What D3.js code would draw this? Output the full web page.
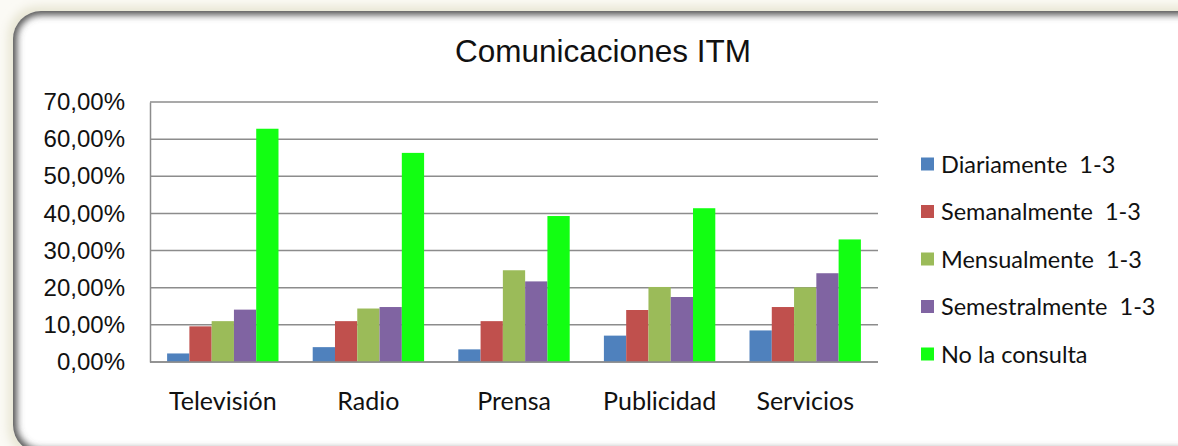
<!DOCTYPE html>
<html>
<head>
<meta charset="utf-8">
<script src="https://cdn.jsdelivr.net/npm/d3@7"></script>
<style>
  body { margin: 0; background: #ffffff; }
  svg { display: block; }
</style>
</head>
<body>
<div id="chart"></div>
<script>
// data
const categories = ["Televisión", "Radio", "Prensa", "Publicidad", "Servicios"];
const seriesNames = ["Diariamente  1-3", "Semanalmente  1-3", "Mensualmente  1-3", "Semestralmente  1-3", "No la consulta"];
const seriesColors = ["#4f81bd", "#c0504d", "#9bbb59", "#8064a2", "#12ff12"];
const diariamente = [2.3, 4.0, 3.4, 7.1, 8.5];
const semanalmente = [9.6, 11.0, 11.0, 14.0, 14.8];
const mensualmente = [11.0, 14.4, 24.7, 20.2, 20.1];
const semestralmente = [14.1, 14.8, 21.7, 17.5, 23.9];
const noConsulta = [62.8, 56.3, 39.3, 41.4, 33.0];
const yTicks = [0, 10, 20, 30, 40, 50, 60, 70];

const values = [diariamente, semanalmente, mensualmente, semestralmente, noConsulta];

const width = 1178, height = 446;
const plot = {left: 150, right: 878, top: 102, bottom: 362};

const svg = d3.select("#chart").append("svg").attr("width", width).attr("height", height);
const defs = svg.append("defs");

// outer glow + frame
const glow = defs.append("filter").attr("id", "glow").attr("x", "-5%").attr("y", "-10%").attr("width", "110%").attr("height", "120%");
glow.append("feGaussianBlur").attr("stdDeviation", 5);

const inner = defs.append("filter").attr("id", "inner").attr("x", "-5%").attr("y", "-10%").attr("width", "110%").attr("height", "120%");
inner.append("feGaussianBlur").attr("stdDeviation", 3.5);

defs.append("clipPath").attr("id", "frameClip")
    .append("rect").attr("x", 13).attr("y", 11).attr("width", 1230).attr("height", 442).attr("rx", 28);

svg.append("rect").attr("x", 0).attr("y", 0).attr("width", width).attr("height", height).attr("fill", "#fbfaf5");
svg.append("rect").attr("x", 8).attr("y", 6).attr("width", 1240).attr("height", 452).attr("rx", 30)
    .attr("fill", "#e8e6d4").attr("filter", "url(#glow)");
svg.append("rect").attr("x", 13).attr("y", 11).attr("width", 1230).attr("height", 442).attr("rx", 28)
    .attr("fill", "#ffffff");
svg.append("g").attr("clip-path", "url(#frameClip)")
    .append("rect").attr("x", 11).attr("y", 9).attr("width", 1234).attr("height", 446).attr("rx", 30)
    .attr("fill", "none").attr("stroke", "#555555").attr("stroke-width", 12)
    .attr("filter", "url(#inner)");

// title
svg.append("text").attr("x", 603).attr("y", 62).attr("text-anchor", "middle")
    .style("font-family", "'Liberation Sans', Arial, sans-serif").style("font-size", "31.5px").attr("fill", "#111")
    .text("Comunicaciones ITM");

// scales
const xScale = d3.scaleBand().domain(categories).range([plot.left, plot.right]).paddingInner(0.235).paddingOuter(0.1175);
const xInner = d3.scaleBand().domain(d3.range(seriesNames.length)).range([0, xScale.bandwidth()]);
const yScale = d3.scaleLinear().domain([0, 70]).range([plot.bottom, plot.top]);

// grid
svg.append("g").selectAll("line").data(yTicks).enter().append("line")
    .attr("x1", plot.left).attr("x2", plot.right)
    .attr("y1", d => yScale(d)).attr("y2", d => yScale(d))
    .attr("stroke", "#8c8c8c").attr("stroke-width", 1.5);

// y axis
const yAxis = d3.axisLeft(yScale).tickValues(yTicks).tickSize(0).tickPadding(25)
    .tickFormat(d => d3.format(".2f")(d).replace(".", ",") + "%");
const yG = svg.append("g").attr("transform", "translate(" + plot.left + ",0)").call(yAxis);
yG.select(".domain").attr("stroke", "#8c8c8c").attr("stroke-width", 1.5);
yG.selectAll("text").style("font-family", "'Liberation Sans', Arial, sans-serif").style("font-size", "24px").attr("fill", "#111");

// bars
const groups = svg.append("g").selectAll("g").data(categories).enter().append("g")
    .attr("transform", d => "translate(" + xScale(d) + ",0)");
groups.selectAll("rect").data((d, i) => values.map((s, j) => ({s: j, v: s[i]}))).enter().append("rect")
    .attr("x", d => xInner(d.s))
    .attr("width", xInner.bandwidth())
    .attr("y", d => yScale(d.v))
    .attr("height", d => yScale(0) - yScale(d.v))
    .attr("fill", d => seriesColors[d.s]);

// bottom axis line
svg.append("line").attr("x1", plot.left).attr("x2", plot.right).attr("y1", plot.bottom).attr("y2", plot.bottom)
    .attr("stroke", "#8c8c8c").attr("stroke-width", 1.5);

// x labels
const xAxis = d3.axisBottom(xScale).tickSize(0).tickPadding(30);
const xG = svg.append("g").attr("transform", "translate(0," + plot.bottom + ")").call(xAxis);
xG.select(".domain").remove();
xG.selectAll("text").style("font-family", "Lato, 'Noto Sans', sans-serif").style("font-size", "25px").attr("fill", "#111");

// legend
const legend = svg.append("g").selectAll("g").data(seriesNames).enter().append("g")
    .attr("transform", (d, i) => "translate(921," + (164 + i * 47.5) + ")");
legend.append("rect").attr("x", 0).attr("y", -6.5).attr("width", 13).attr("height", 13)
    .attr("fill", (d, i) => seriesColors[i]);
legend.append("text").attr("x", 20).attr("y", 8.5).text(d => d)
    .style("font-family", "Lato, 'Noto Sans', sans-serif").style("font-size", "23.5px").style("white-space", "pre")
    .attr("xml:space", "preserve").attr("fill", "#111");
</script>
</body>
</html>
